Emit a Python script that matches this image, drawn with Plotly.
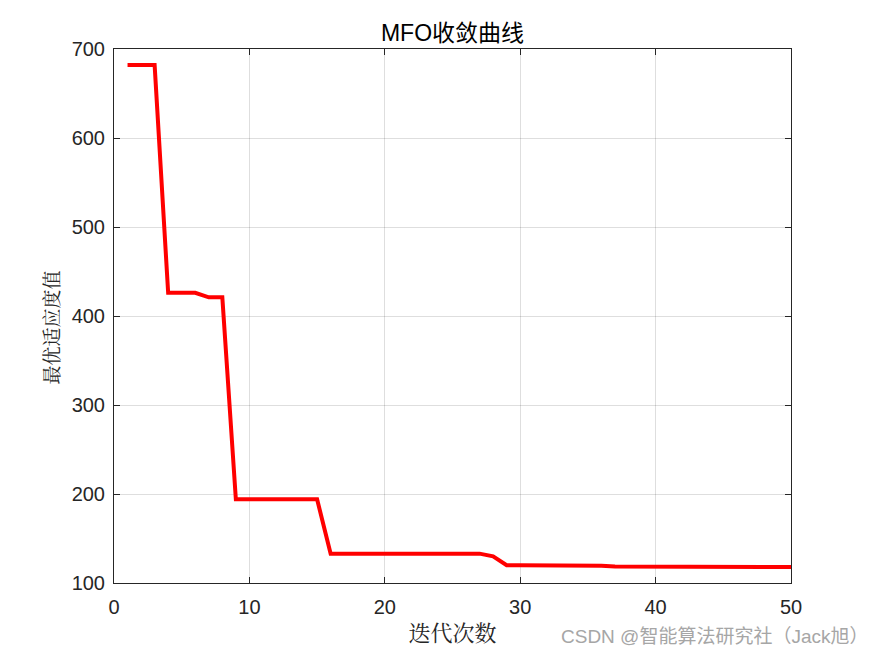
import plotly.graph_objects as go

iterations = list(range(1, 51))
best_fitness = [682, 682, 682, 426, 426, 426, 421, 421, 194, 194,
                194, 194, 194, 194, 194, 133, 133, 133, 133, 133,
                133, 133, 133, 133, 133, 133, 133, 130, 120, 120,
                120, 120, 119.5, 119.5, 119.5, 119.3, 118.5, 118.5, 118.5, 118.5,
                118.5, 118.5, 118.5, 118.5, 118.5, 118.5, 118.5, 118.5, 118.2, 118]
x_ticks = [0, 10, 20, 30, 40, 50]
y_ticks = [100, 200, 300, 400, 500, 600, 700]

fig = go.Figure()
fig.add_trace(go.Scatter(x=iterations, y=best_fitness, mode="lines",
                         line=dict(color="#ff0000", width=4), showlegend=False))

axis_common = dict(showline=True, linecolor="#262626", linewidth=1, mirror="ticks",
                   ticks="inside", ticklen=6, tickcolor="#262626",
                   showgrid=True, gridcolor="rgba(0,0,0,0.13)", gridwidth=1,
                   zeroline=False, tickfont=dict(family="Arial, Liberation Sans", size=20, color="#262626"))

PW, PH = 677, 534
fig.update_layout(
    width=875, height=656,
    margin=dict(l=114, r=84, t=49, b=73),
    paper_bgcolor="white", plot_bgcolor="white",
    title=dict(text="MFO收敛曲线", xref="paper", x=0.5, xanchor="center", y=1 - 33/656, yanchor="middle",
               font=dict(family="Arial, Noto Sans CJK SC", size=23, color="black")),
    xaxis=dict(range=[0, 50], tickvals=x_ticks, ticklabelstandoff=6, **axis_common,
               title=dict(text="迭代次数", font=dict(family="Noto Serif CJK SC, Noto Sans CJK SC", size=22, color="#262626"), standoff=8)),
    yaxis=dict(range=[100, 700], tickvals=y_ticks, ticklabelstandoff=4, **axis_common),
)
fig.add_annotation(text="最优适应度值", xref="paper", yref="paper",
                   x=(50 - 114) / PW, y=(583 - 327.5) / PH, xanchor="center", yanchor="middle",
                   textangle=-90, showarrow=False,
                   font=dict(family="Noto Serif CJK SC, Noto Sans CJK SC", size=19, color="#262626"))
fig.add_annotation(text="CSDN @智能算法研究社（Jack旭）", xref="paper", yref="paper",
                   x=(870 - 114) / PW, y=-53/PH, xanchor="right", yanchor="middle", showarrow=False,
                   font=dict(family="Arial, Noto Sans CJK SC", size=19, color="#a6a6a6"))

fig.write_html("out.html")
